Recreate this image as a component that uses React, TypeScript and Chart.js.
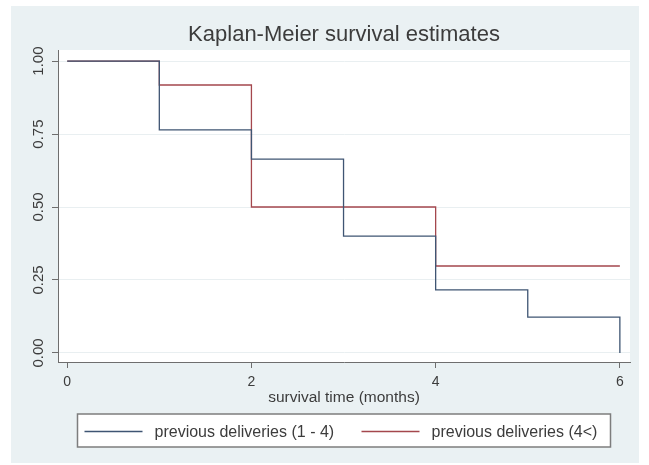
import React, { useEffect, useRef } from "react";
import { Chart, registerables } from "chart.js";

Chart.register(...registerables);

// ---- data ----
const chartTitle = "Kaplan-Meier survival estimates";
const xAxisTitle = "survival time (months)";
const seriesLabels = ["previous deliveries (1 - 4)", "previous deliveries (4<)"];
const group1Times = [0, 1, 2, 3, 4, 5, 6];
const group1Survival = [1.0, 0.764, 0.664, 0.4, 0.216, 0.123, 0.0];
const group2Times = [0, 1, 2, 4, 6];
const group2Survival = [1.0, 0.918, 0.5, 0.298, 0.298];
const xTicks = [0, 2, 4, 6];
const yTicks = [0, 0.25, 0.5, 0.75, 1.0];

const FONT = "'Liberation Sans', Arial, sans-serif";
const TEXT = "#3c3c3c";
const AXIS = "#6e6e6e";
const COLORS = ["#3f5573", "#a4474d"];

const backgroundPlugin = {
  id: "stataBackground",
  beforeDraw(chart: any) {
    const { ctx, width, height, chartArea } = chart;
    ctx.save();
    ctx.fillStyle = "#ffffff";
    ctx.fillRect(0, 0, width, height);
    ctx.fillStyle = "#eaf1f3";
    ctx.fillRect(11, 6, width - 21, height - 8);
    ctx.fillStyle = "#ffffff";
    ctx.fillRect(chartArea.left, chartArea.top, chartArea.right - chartArea.left, chartArea.bottom - chartArea.top);
    ctx.restore();
  },
};

const titleAndLegendPlugin = {
  id: "stataTitleLegend",
  afterDraw(chart: any) {
    const { ctx, chartArea } = chart;
    const cx = (chartArea.left + chartArea.right) / 2;
    ctx.save();
    // title
    ctx.fillStyle = TEXT;
    ctx.font = `22px ${FONT}`;
    ctx.textAlign = "center";
    ctx.textBaseline = "middle";
    ctx.fillText(chartTitle, cx, chartArea.top - 15);
    // legend
    const boxW = 533;
    const boxH = 33;
    const left = cx - boxW / 2;
    const top = chartArea.bottom + 52;
    ctx.fillStyle = "#ffffff";
    ctx.fillRect(left, top, boxW, boxH);
    ctx.strokeStyle = "#7d7d7d";
    ctx.lineWidth = 1.5;
    ctx.strokeRect(left, top, boxW, boxH);
    const itemOffsets = [7, 284];
    const midY = top + 17.5;
    chart.data.datasets.forEach((ds: any, i: number) => {
      const x0 = left + itemOffsets[i];
      ctx.strokeStyle = ds.borderColor;
      ctx.lineWidth = 1.3;
      ctx.beginPath();
      ctx.moveTo(x0, midY);
      ctx.lineTo(x0 + 58, midY);
      ctx.stroke();
      ctx.fillStyle = TEXT;
      ctx.font = `16px ${FONT}`;
      ctx.textAlign = "left";
      ctx.textBaseline = "middle";
      ctx.fillText(ds.label, x0 + 70, midY + 1);
    });
    ctx.restore();
  },
};

export default function App() {
  const canvasRef = useRef<HTMLCanvasElement | null>(null);

  useEffect(() => {
    if (!canvasRef.current) return;
    Chart.defaults.font.family = FONT;
    const d1 = group1Times.map((t, i) => ({ x: t, y: group1Survival[i] }));
    const d2 = group2Times.map((t, i) => ({ x: t, y: group2Survival[i] }));
    const chart = new Chart(canvasRef.current, {
      type: "line",
      data: {
        datasets: [
          {
            label: seriesLabels[0],
            data: d1,
            stepped: "before",
            borderColor: COLORS[0],
            borderWidth: 1.3,
            pointRadius: 0,
            fill: false,
          },
          {
            label: seriesLabels[1],
            data: d2,
            stepped: "before",
            borderColor: COLORS[1],
            borderWidth: 1.3,
            pointRadius: 0,
            fill: false,
          },
        ],
      },
      options: {
        responsive: false,
        animation: false,
        devicePixelRatio: 1,
        layout: { padding: { left: 11, right: 19, top: 50, bottom: 0 } },
        plugins: {
          legend: { display: false },
          tooltip: { enabled: false },
          title: { display: false },
        },
        scales: {
          x: {
            type: "linear",
            min: -0.1,
            max: 6.11,
            afterBuildTicks: (scale: any) => {
              scale.ticks = xTicks.map((v) => ({ value: v }));
            },
            afterFit: (scale: any) => {
              scale.height = 103;
            },
            border: { color: AXIS, width: 1 },
            grid: { drawOnChartArea: false, drawTicks: true, tickLength: 6, tickColor: AXIS },
            ticks: {
              color: TEXT,
              font: { size: 14, family: FONT },
              padding: 6,
              maxRotation: 0,
              autoSkip: false,
              callback: (v: any) => String(v),
            },
            title: {
              display: true,
              text: xAxisTitle,
              color: TEXT,
              font: { size: 15.5, family: FONT },
              padding: { top: 0, bottom: 58 },
            },
          },
          y: {
            type: "linear",
            min: -0.031,
            max: 1.038,
            afterBuildTicks: (scale: any) => {
              scale.ticks = yTicks.map((v) => ({ value: v }));
            },
            afterFit: (scale: any) => {
              scale.width = 47;
            },
            border: { color: AXIS, width: 1 },
            grid: { color: "#e9eff1", lineWidth: 1, drawTicks: true, tickLength: 6, tickColor: AXIS },
            ticks: {
              color: TEXT,
              font: { size: 15, family: FONT },
              minRotation: 90,
              maxRotation: 90,
              crossAlign: "center",
              padding: -1,
              autoSkip: false,
              callback: (v: any) => Number(v).toFixed(2),
            },
          },
        },
      },
      plugins: [backgroundPlugin, titleAndLegendPlugin],
    } as any);
    return () => chart.destroy();
  }, []);

  return (
    <canvas
      ref={canvasRef}
      width={649}
      height={465}
      style={{ position: "absolute", left: 0, top: 0, display: "block" }}
    />
  );
}
